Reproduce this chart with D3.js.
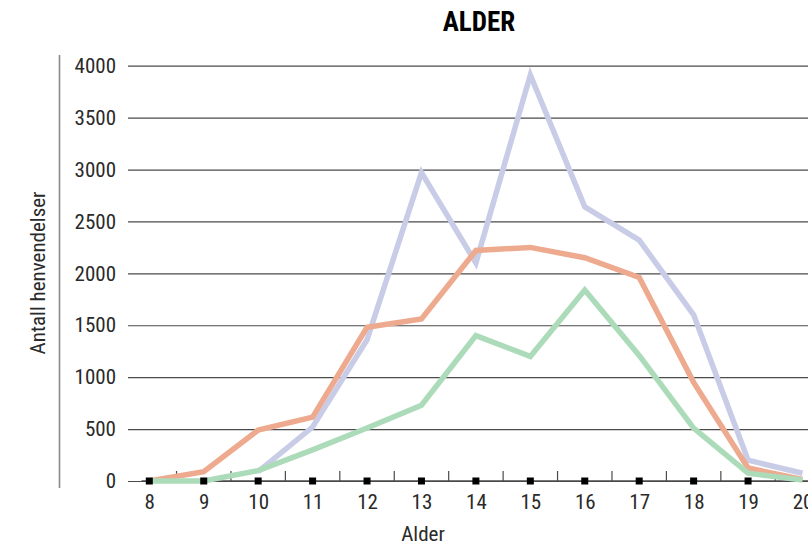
<!DOCTYPE html>
<html>
<head>
<meta charset="utf-8">
<script src="https://cdn.jsdelivr.net/npm/d3@7"></script>
<style>
  body { margin: 0; background: #fff; }
  text { font-family: "Liberation Sans Narrow", "Arial Narrow", "Roboto Condensed", sans-serif; }
</style>
</head>
<body>
<svg id="chart" width="808" height="545"></svg>
<script>
// data
const ages = [8, 9, 10, 11, 12, 13, 14, 15, 16, 17, 18, 19, 20];
const seriesBlue = [null, null, 90, 520, 1360, 2970, 2100, 3910, 2640, 2320, 1600, 200, 75];
const seriesOrange = [0, 90, 490, 615, 1480, 1560, 2220, 2250, 2150, 1960, 950, 125, 15];
const seriesGreen = [0, 0, 100, 300, 510, 730, 1400, 1200, 1840, 1210, 510, 75, 10];
const markerValues = [0, 0, 0, 0, 0, 0, 0, 0, 0, 0, 0, 0, null];
const yTicks = [0, 500, 1000, 1500, 2000, 2500, 3000, 3500, 4000];

const svg = d3.select("#chart");

// scales
const x = d3.scalePoint().domain(ages).range([149.3, 802.5]);
const y = d3.scaleLinear().domain([0, 4000]).range([481, 65.7]);

const gridLeft = 128, gridRight = 808;

// title
svg.append("text")
    .attr("x", 479).attr("y", 31)
    .attr("text-anchor", "middle")
    .style("font-size", "27px").style("font-weight", "bold")
    .text("ALDER");

// left vertical rule
svg.append("line")
    .attr("x1", 59.5).attr("x2", 59.5)
    .attr("y1", 55).attr("y2", 488)
    .attr("stroke", "#8a8a8a").attr("stroke-width", 1.6);

// y axis + gridlines
const yAxis = d3.axisLeft(y)
    .tickValues(yTicks)
    .tickSize(-(gridRight - gridLeft))
    .tickPadding(12)
    .tickFormat(d3.format("d"));

const gy = svg.append("g")
    .attr("transform", `translate(${gridLeft},0)`)
    .call(yAxis);
gy.select(".domain").remove();
gy.selectAll(".tick line").attr("stroke", "#4a4a4a").attr("stroke-width", 1.2);
gy.selectAll(".tick text")
    .style("font-size", "21px").attr("fill", "#2a2a2a");

// x baseline
svg.append("line")
    .attr("x1", 141.5).attr("x2", gridRight)
    .attr("y1", y(0)).attr("y2", y(0))
    .attr("stroke", "#4a4a4a").attr("stroke-width", 1.4);

// tick marks between categories (upwards)
const step = x.step();
const mids = ages.slice(0, -1).map(a => x(a) + step / 2);
svg.append("g").selectAll("line")
    .data(mids)
    .enter()
    .append("line")
    .attr("x1", d => d).attr("x2", d => d)
    .attr("y1", y(0) - 10).attr("y2", y(0))
    .attr("stroke", "#4a4a4a").attr("stroke-width", 1.2);

// x axis labels
const xAxis = d3.axisBottom(x).tickSize(0).tickPadding(13);
const gx = svg.append("g")
    .attr("transform", `translate(0,${y(0)})`)
    .call(xAxis);
gx.select(".domain").remove();
gx.selectAll(".tick text")
    .style("font-size", "21px").attr("fill", "#2a2a2a");

// axis titles
svg.append("text")
    .attr("x", 423).attr("y", 541)
    .attr("text-anchor", "middle")
    .style("font-size", "21px").attr("fill", "#2a2a2a")
    .text("Alder");

svg.append("text")
    .attr("transform", "translate(45,273) rotate(-90)")
    .attr("text-anchor", "middle")
    .style("font-size", "21px").attr("fill", "#2a2a2a")
    .text("Antall henvendelser");

// lines
const line = d3.line()
    .defined(d => d.v !== null)
    .x(d => x(d.a))
    .y(d => y(d.v));

const series = [
    { values: seriesBlue, color: "#c8cce7" },
    { values: seriesOrange, color: "#eeaa8e" },
    { values: seriesGreen, color: "#acdbb9" }
];

series.forEach(s => {
    svg.append("path")
        .datum(ages.map((a, i) => ({ a: a, v: s.values[i] })))
        .attr("d", line)
        .attr("fill", "none")
        .attr("stroke", s.color)
        .attr("stroke-width", 5.5)
        .attr("stroke-linejoin", "miter");
});

// black square markers
svg.append("g").selectAll("rect")
    .data(ages.map((a, i) => ({ a: a, v: markerValues[i] })).filter(d => d.v !== null))
    .enter()
    .append("rect")
    .attr("x", d => x(d.a) - 3.5)
    .attr("y", d => y(d.v) - 3.5)
    .attr("width", 7)
    .attr("height", 7)
    .attr("fill", "#000");
</script>
</body>
</html>
